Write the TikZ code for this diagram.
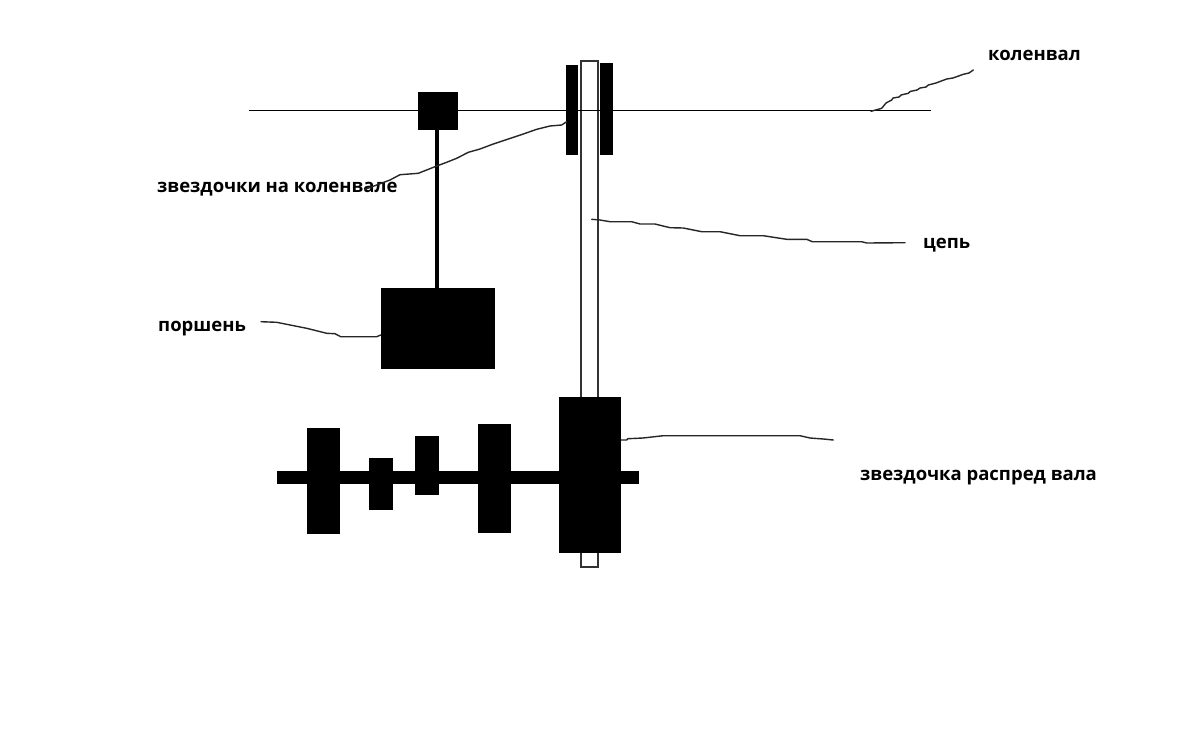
\documentclass[tikz,border=0pt]{standalone}
\usepackage{fontspec}
\setmainfont{Open Sans}
\tikzset{
  solid block/.style={fill=black,draw=none},
  chain band/.style={draw=black!80,line width=2pt,fill=white},
  shaft line/.style={draw=black,line width=1.7pt},
  leader/.style={draw=black!85,line width=1.4pt,line join=round,line cap=round},
  caption/.style={anchor=base west,inner sep=0pt,font=\fontsize{18.5}{22}\selectfont\bfseries,text=black}
}
\begin{document}
\begin{tikzpicture}[x=1pt,y=-1pt]
\useasboundingbox (0,0) rectangle (1200,737);
\fill[white] (0,0) rectangle (1200,737);
% chain
\draw[chain band] (580.6,60.8) rectangle (598.2,566.6);
% crankshaft
\draw[shaft line] (249,110.4) -- (931,110.4);
\fill[solid block] (418,92.3) rectangle (457.5,130);
\fill[solid block] (435.2,130) rectangle (439.4,288.5);
\fill[solid block] (380.7,288.3) rectangle (494.7,369);
\fill[solid block] (565.7,64.7) rectangle (578,155);
\fill[solid block] (600.3,63.3) rectangle (612.7,155);
% camshaft
\fill[solid block] (276.7,471.3) rectangle (639.3,484.3);
\fill[solid block] (306.7,428.3) rectangle (340,533.7);
\fill[solid block] (369.3,458) rectangle (393.3,510.3);
\fill[solid block] (415.3,435.7) rectangle (439,495.3);
\fill[solid block] (478.3,424.3) rectangle (510.7,532.7);
\fill[solid block] (559,397.3) rectangle (621,553.3);
% captions
\node[caption] (zv) at (157,192.5) {звездочки на коленвале};
\node[caption] (po) at (158,331.5) {поршень};
\node[caption] (ko) at (988,60.5) {коленвал};
\node[caption] (ce) at (923,248) {цепь};
\node[caption] (ra) at (860,480) {звездочка распред вала};
% leaders
\draw[leader] (365,189.3) -- (376.7,185) -- (390,180) -- (400,174.7) -- (418.3,173.3) -- (436.7,166) -- (446.7,162.3) -- (456.7,158.3) -- (468.3,152.3) -- (480,149) -- (493.3,144) -- (503.3,140.7) -- (523.3,134) -- (536.7,129.3) -- (550,126) -- (561.7,125) -- (566.7,121.7);
\draw[leader] (261,321.7) -- (276.7,322.3) -- (306.7,328.3) -- (326.7,333.3) -- (335,333.7) -- (340.7,336.7) -- (376.7,336.7) -- (380.7,335);
\draw[leader] (871,111.3) -- (881.7,108.3) -- (886,103) -- (891.7,100) -- (893,98) -- (899,97) -- (901,95) -- (908.3,93.3) -- (910,91.5) -- (917,90) -- (920,88) -- (926,87) -- (928.3,85) -- (936,83) -- (946.7,79) -- (953,78) -- (963.3,74.3) -- (969,73) -- (973.3,70);
\draw[leader] (591.7,219.3) -- (600,220) -- (610,221.7) -- (631.7,221.7) -- (640,224) -- (655,224) -- (670,227.7) -- (683.3,228) -- (701.7,231.7) -- (720,231.7) -- (740,235.7) -- (763.3,235.7) -- (786.7,239.3) -- (806.7,239.3) -- (812.3,241.7) -- (861.7,241.7) -- (866.7,243) -- (905,242.7);
\draw[leader] (621,440) -- (626.7,440) -- (628,438.7) -- (643,438) -- (663.3,435.7) -- (800,435.7) -- (810,438) -- (823.3,439) -- (833.3,440);
\end{tikzpicture}
\end{document}
